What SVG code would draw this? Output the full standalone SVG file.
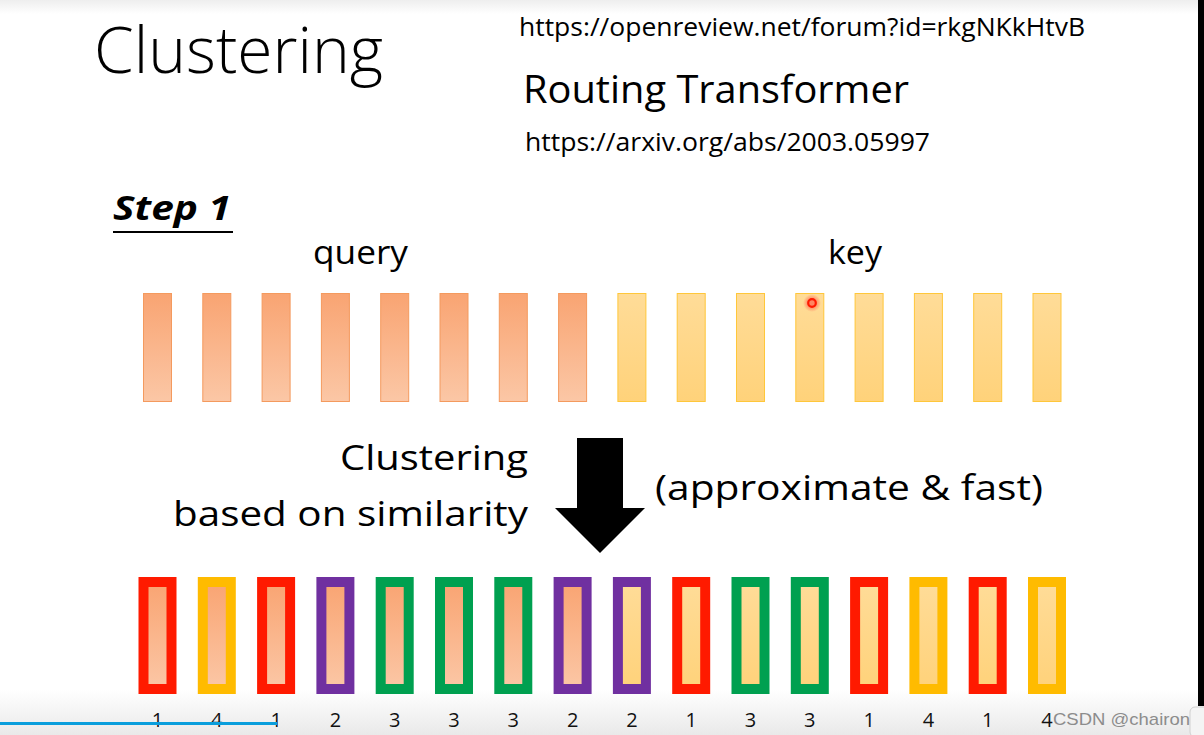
<svg xmlns="http://www.w3.org/2000/svg" width="1204" height="735" viewBox="0 0 1204 735">
<defs>
<linearGradient id="gq" x1="0" y1="0" x2="0" y2="1"><stop offset="0" stop-color="#F9A472"/><stop offset="1" stop-color="#FBC7A6"/></linearGradient>
<linearGradient id="gk" x1="0" y1="0" x2="0" y2="1"><stop offset="0" stop-color="#FFDC98"/><stop offset="1" stop-color="#FFD27A"/></linearGradient>
<linearGradient id="gbot" x1="0" y1="0" x2="0" y2="1"><stop offset="0" stop-color="#ffffff"/><stop offset="1" stop-color="#e9e9e9"/></linearGradient>
<linearGradient id="gtop" x1="0" y1="0" x2="0" y2="1"><stop offset="0" stop-color="#eeeeee"/><stop offset="1" stop-color="#ffffff"/></linearGradient>
<radialGradient id="glow"><stop offset="0.4" stop-color="#ff3030" stop-opacity="0.5"/><stop offset="1" stop-color="#ff3030" stop-opacity="0"/></radialGradient>
</defs>
<style>
.t{font-family:"Open Sans","Noto Sans",sans-serif;fill:#000}
.q{fill:url(#gq);stroke:#F49A5E;stroke-width:1}
.k{fill:url(#gk);stroke:#FFC73A;stroke-width:1}
.b{stroke-width:10}
.red{stroke:#FF1A00}.org{stroke:#FFBB00}.pur{stroke:#7030A0}.grn{stroke:#00A050}
.n{font-family:"Open Sans","Noto Sans",sans-serif;font-size:20px;text-anchor:middle;fill:#111}
</style>
<rect width="1204" height="735" fill="#fff"/>
<rect width="1204" height="14" fill="url(#gtop)"/>
<rect y="690" width="1204" height="45" fill="url(#gbot)"/>

<g id="title">
<text class="t" x="94" y="73" font-size="64" font-weight="300" textLength="289" lengthAdjust="spacingAndGlyphs">Clustering</text>
</g>
<g id="refs">
<text class="t" x="519" y="36" font-size="25" textLength="566" lengthAdjust="spacingAndGlyphs">https://openreview.net/forum?id=rkgNKkHtvB</text>
<text class="t" x="523" y="103" font-size="38" textLength="386" lengthAdjust="spacingAndGlyphs">Routing Transformer</text>
<text class="t" x="525" y="151" font-size="25" textLength="405" lengthAdjust="spacingAndGlyphs">https://arxiv.org/abs/2003.05997</text>
</g>
<g id="step1">
<text class="t" x="113" y="220" font-size="34" font-weight="bold" font-style="italic" textLength="118" lengthAdjust="spacingAndGlyphs">Step 1</text>
<rect x="113" y="231" width="120" height="2" fill="#000"/>
</g>
<g id="labels">
<text class="t" x="313" y="264" font-size="32" textLength="95" lengthAdjust="spacingAndGlyphs">query</text>
<text class="t" x="828" y="264" font-size="32" textLength="54" lengthAdjust="spacingAndGlyphs">key</text>
<text class="t" x="528" y="470" font-size="35" text-anchor="end" textLength="188" lengthAdjust="spacingAndGlyphs">Clustering</text>
<text class="t" x="528" y="526" font-size="35" text-anchor="end" textLength="355" lengthAdjust="spacingAndGlyphs">based on similarity</text>
<text class="t" x="655" y="500" font-size="35" textLength="388" lengthAdjust="spacingAndGlyphs">(approximate &amp; fast)</text>
</g>

<g id="query-vectors">
<rect class="q" x="143.5" y="293.5" width="28" height="108"/>
<rect class="q" x="202.8" y="293.5" width="28" height="108"/>
<rect class="q" x="262.1" y="293.5" width="28" height="108"/>
<rect class="q" x="321.4" y="293.5" width="28" height="108"/>
<rect class="q" x="380.7" y="293.5" width="28" height="108"/>
<rect class="q" x="440" y="293.5" width="28" height="108"/>
<rect class="q" x="499.3" y="293.5" width="28" height="108"/>
<rect class="q" x="558.6" y="293.5" width="28" height="108"/>
</g>
<g id="key-vectors">
<rect class="k" x="617.9" y="293.5" width="28" height="108"/>
<rect class="k" x="677.2" y="293.5" width="28" height="108"/>
<rect class="k" x="736.5" y="293.5" width="28" height="108"/>
<rect class="k" x="795.8" y="293.5" width="28" height="108"/>
<rect class="k" x="855.1" y="293.5" width="28" height="108"/>
<rect class="k" x="914.4" y="293.5" width="28" height="108"/>
<rect class="k" x="973.7" y="293.5" width="28" height="108"/>
<rect class="k" x="1033" y="293.5" width="28" height="108"/>
</g>
<g id="cursor">
<circle cx="812" cy="303" r="9" fill="url(#glow)"/>
<circle cx="812" cy="303" r="3.8" fill="none" stroke="#FF1A00" stroke-width="2.2"/>
</g>

<g id="connectors">
<polygon points="577,438 623,438 623,508 645,508 600,553 555,508 577,508" fill="#000"/>
</g>

<g id="clustered">
<rect class="b red" x="143.5" y="582" width="28" height="107" fill="url(#gq)"/>
<rect class="b org" x="202.8" y="582" width="28" height="107" fill="url(#gq)"/>
<rect class="b red" x="262.1" y="582" width="28" height="107" fill="url(#gq)"/>
<rect class="b pur" x="321.4" y="582" width="28" height="107" fill="url(#gq)"/>
<rect class="b grn" x="380.7" y="582" width="28" height="107" fill="url(#gq)"/>
<rect class="b grn" x="440" y="582" width="28" height="107" fill="url(#gq)"/>
<rect class="b grn" x="499.3" y="582" width="28" height="107" fill="url(#gq)"/>
<rect class="b pur" x="558.6" y="582" width="28" height="107" fill="url(#gq)"/>
<rect class="b pur" x="617.9" y="582" width="28" height="107" fill="url(#gk)"/>
<rect class="b red" x="677.2" y="582" width="28" height="107" fill="url(#gk)"/>
<rect class="b grn" x="736.5" y="582" width="28" height="107" fill="url(#gk)"/>
<rect class="b grn" x="795.8" y="582" width="28" height="107" fill="url(#gk)"/>
<rect class="b red" x="855.1" y="582" width="28" height="107" fill="url(#gk)"/>
<rect class="b org" x="914.4" y="582" width="28" height="107" fill="url(#gk)"/>
<rect class="b red" x="973.7" y="582" width="28" height="107" fill="url(#gk)"/>
<rect class="b org" x="1033" y="582" width="28" height="107" fill="url(#gk)"/>
</g>
<g id="cluster-ids">
<text class="n" x="157.5" y="727">1</text>
<text class="n" x="216.8" y="727">4</text>
<text class="n" x="276.1" y="727">1</text>
<text class="n" x="335.4" y="727">2</text>
<text class="n" x="394.7" y="727">3</text>
<text class="n" x="454" y="727">3</text>
<text class="n" x="513.3" y="727">3</text>
<text class="n" x="572.6" y="727">2</text>
<text class="n" x="631.9" y="727">2</text>
<text class="n" x="691.2" y="727">1</text>
<text class="n" x="750.5" y="727">3</text>
<text class="n" x="809.8" y="727">3</text>
<text class="n" x="869.1" y="727">1</text>
<text class="n" x="928.4" y="727">4</text>
<text class="n" x="987.7" y="727">1</text>
<text class="n" x="1047" y="727">4</text>
</g>

<g id="overlay">
<rect x="0" y="722" width="277" height="3" fill="#0A9EDC"/>
<rect x="1198" y="0" width="6" height="706" fill="#000"/>
<rect x="1190" y="707" width="20" height="30" rx="5" fill="#f4f4f4" stroke="#d0d0d0"/>
<text x="1053" y="725" font-family="'Liberation Sans',Arial,sans-serif" font-size="17" fill="#8c8c8c" textLength="137" lengthAdjust="spacingAndGlyphs">CSDN @chairon</text>
</g>
</svg>
